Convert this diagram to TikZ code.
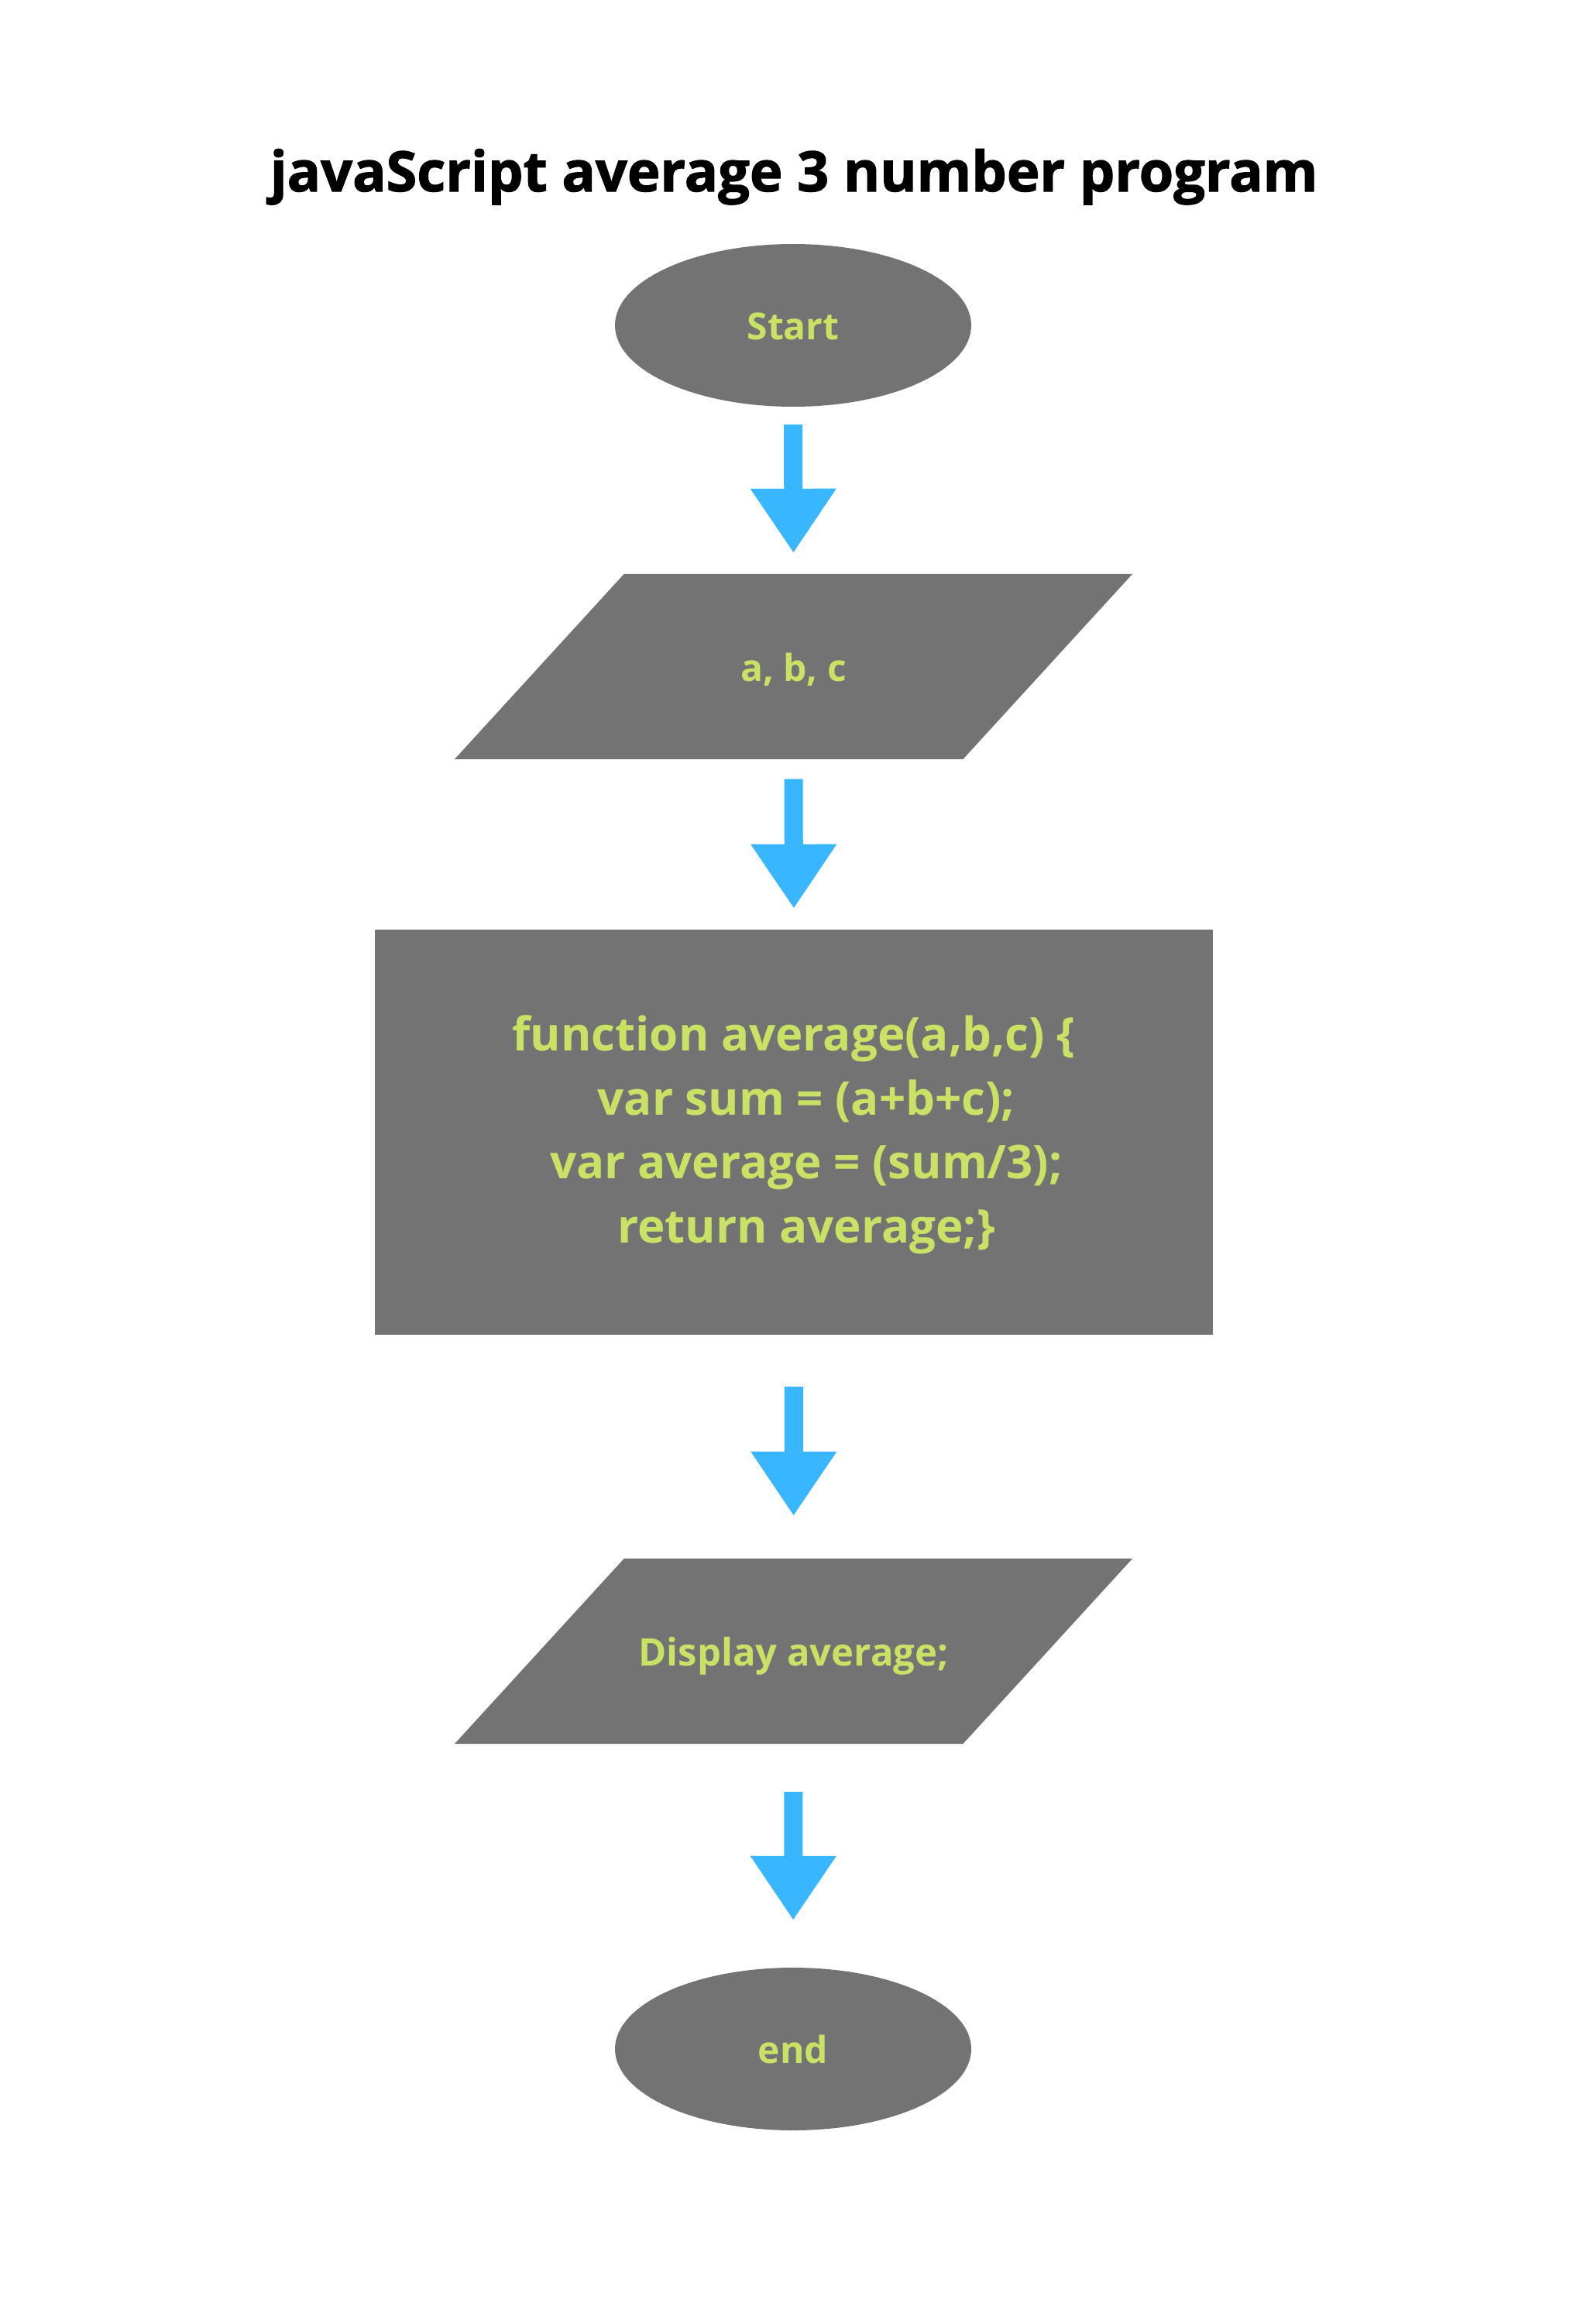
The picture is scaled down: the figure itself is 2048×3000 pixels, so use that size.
\documentclass[tikz,border=0pt]{standalone}
\usepackage{fontspec}
\setmainfont{Open Sans}
\newfontfamily\titlefont{Open Sans}[BoldFeatures={FakeBold=1.6}]
\usetikzlibrary{shapes.geometric,arrows.meta,backgrounds,calc}
\definecolor{boxgray}{HTML}{737373}
\definecolor{labelgreen}{HTML}{C9E265}
\definecolor{arrowblue}{HTML}{38B6FF}
\tikzset{
  lbl/.style={text=labelgreen, font=\bfseries\fontsize{48}{58}\selectfont, text height=51pt, text depth=14pt, inner sep=0pt},
  terminal/.style={ellipse, fill=boxgray, minimum width=460pt, minimum height=210pt, lbl},
  iobox/.style={rectangle, minimum width=875pt, minimum height=239pt, lbl},
  procbox/.style={rectangle, fill=boxgray, minimum width=1082pt, minimum height=523pt, inner sep=0pt, text=labelgreen, align=center, font=\bfseries\fontsize{60}{82.5}\selectfont},
  flow/.style={draw=arrowblue, line width=24pt, -{Triangle[length=83pt, width=105pt, fill=arrowblue]}},
  para/.style={fill=boxgray}
}
\begin{document}
\begin{tikzpicture}[x=1pt,y=1pt]
\useasboundingbox (0,0) rectangle (2048,-3000);
\node[anchor=base, font=\titlefont\bfseries\fontsize{72}{86}\selectfont, text=black, inner sep=0pt] (title) at (1025,-247) {javaScript average 3 number program};
\node[terminal] (start) at (1024,-420) {Start};
\node[iobox] (in) at (1024.5,-860.5) {a, b, c};
\node[procbox] (proc) at (1025,-1461.5) {\rule{0pt}{52pt}function average(a,b,c) \{\\\hspace*{32pt}var sum = (a+b+c);\\\hspace*{32pt}var average = (sum/3);\\\hspace*{32pt}return average;\}};
\node[iobox, font=\bfseries\fontsize{49}{58}\selectfont] (out) at (1024.5,-2131.5) {Display average;};
\node[terminal] (end) at (1024,-2645) {end};
\begin{scope}[on background layer]
\fill[para] (in.south west) -- ($(in.south east)+(-219,0)$) -- (in.north east) -- ($(in.north west)+(219,0)$) -- cycle;
\fill[para] (out.south west) -- ($(out.south east)+(-219,0)$) -- (out.north east) -- ($(out.north west)+(219,0)$) -- cycle;
\end{scope}
\draw[flow, shorten <=23pt, shorten >=27pt] (start.south) -- (in.north);
\draw[flow, shorten <=25.5pt, shorten >=27pt] (in.south) -- (proc.north);
\draw[flow, shorten <=67pt, shorten >=55pt] (proc.south) -- (out.north);
\draw[flow, shorten <=62pt, shorten >=61pt] (out.south) -- (end.north);
\end{tikzpicture}
\end{document}
